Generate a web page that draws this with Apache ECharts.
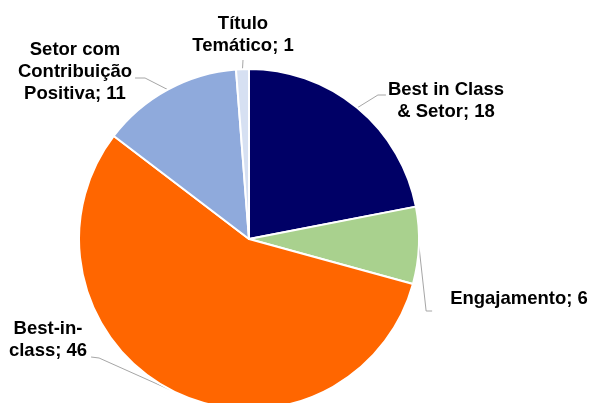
<!DOCTYPE html>
<html>
<head>
<meta charset="utf-8">
<script src="https://cdn.jsdelivr.net/npm/echarts@6/dist/echarts.min.js"></script>
<style>html,body{margin:0;padding:0;background:#fff;}#c{width:593px;height:403px;}</style>
</head>
<body>
<div id="c"></div>
<script>
const categories = ["Best in Class\n& Setor", "Engajamento", "Best-in-\nclass", "Setor com\nContribuição\nPositiva", "Título\nTemático"];
const values = [18, 6, 46, 11, 1];
const colors = ["#000066", "#A9D18E", "#FF6600", "#8FAADC", "#D6E0F2"];
// label centers (layout only)
const labelPos = [[446, 101], [519, 299], [48, 340], [75, 72], [243, 35]];
// label line end relative to label box: [side, dx, dy, elbowDx, elbowDy]
const lineEnds = [
  ['left', -2, -6, -8, 0],
  ['left', -18, 12, -6, 0],
  ['right', 4, 17, 8, 1],
  ['right', 3, 6, 10, 0],
  ['bottom', 0, 3, 0, 0]
];

const chart = echarts.init(document.getElementById('c'), null, {renderer: 'canvas'});
chart.setOption({
  animation: false,
  backgroundColor: '#ffffff',
  series: [{
    type: 'pie',
    center: [249, 239],
    radius: [0, 170],
    startAngle: 90,
    clockwise: true,
    avoidLabelOverlap: false,
    data: categories.map((c, i) => ({name: c, value: values[i], itemStyle: {color: colors[i]}})),
    itemStyle: {borderColor: '#ffffff', borderWidth: 2},
    label: {
      show: true,
      formatter: p => p.name + '; ' + p.value,
      fontFamily: 'Liberation Sans, Arial, sans-serif',
      fontWeight: 'bold',
      fontSize: 18.5,
      lineHeight: 22,
      color: '#000000',
      align: 'center'
    },
    labelLine: {show: true, length: 10, length2: 10, lineStyle: {color: '#A6A6A6', width: 1}},
    labelLayout: function (params) {
      const i = params.dataIndex;
      const p = labelPos[i];
      const w = params.labelRect.width, h = params.labelRect.height;
      const x0 = p[0] - w / 2, x1 = p[0] + w / 2, y1 = p[1] + h / 2;
      const anchor = params.labelLinePoints ? params.labelLinePoints[0] : null;
      const cfg = lineEnds[i];
      let end;
      if (cfg[0] === 'left') end = [x0 + cfg[1], p[1] + cfg[2]];
      else if (cfg[0] === 'right') end = [x1 + cfg[1], p[1] + cfg[2]];
      else end = [p[0], y1 + cfg[2]];
      const elbow = [end[0] + cfg[3], end[1] + cfg[4]];
      const res = {x: p[0], y: p[1], align: 'center', verticalAlign: 'middle'};
      if (anchor) res.labelLinePoints = [[anchor[0], anchor[1]], elbow, end];
      return res;
    }
  }]
});
</script>
</body>
</html>
